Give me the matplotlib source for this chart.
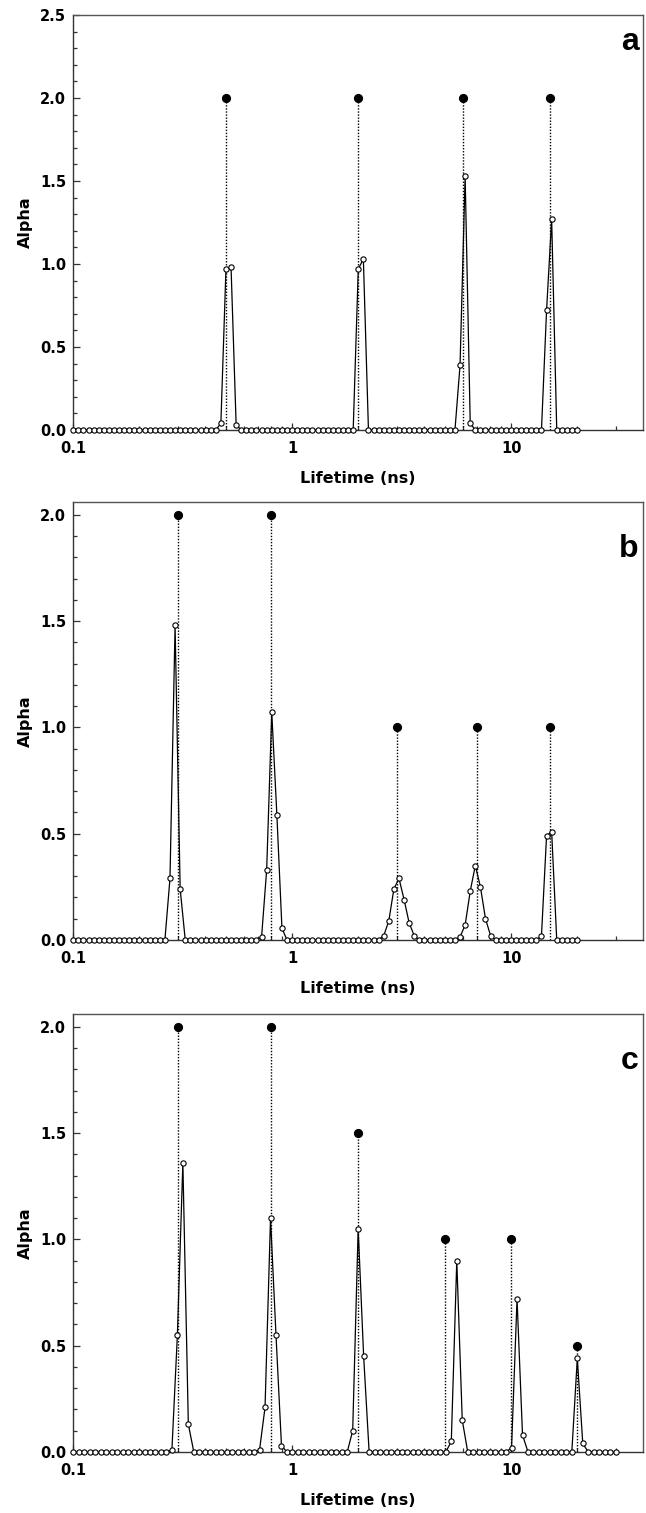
import numpy as np
import matplotlib
matplotlib.use("Agg")
import matplotlib.pyplot as plt
from matplotlib.ticker import FixedLocator, MultipleLocator, NullFormatter

plt.rcParams['font.family'] = ['DejaVu Sans']
plt.rcParams['font.weight'] = 'bold'

# ---- lifetime grids (log-spaced recovery grids, 100 points) ----
grid_a = dict(start=0.1, end=20.0, n=100)
grid_b = dict(start=0.1, end=20.0, n=100)
grid_c = dict(start=0.1, end=30.0, n=100)

# ---- true lifetimes (filled dots) ----
true_tau_a = [0.5, 2.0, 6.0, 15.0]
true_amp_a = [2.0, 2.0, 2.0, 2.0]
true_tau_b = [0.3, 0.8, 3.0, 7.0, 15.0]
true_amp_b = [2.0, 2.0, 1.0, 1.0, 1.0]
true_tau_c = [0.3, 0.8, 2.0, 5.0, 10.0, 20.0]
true_amp_c = [2.0, 2.0, 1.5, 1.0, 1.0, 0.5]

# ---- recovered alpha distributions: nonzero entries {grid index: alpha} ----
recovered_a = {29: 0.04, 30: 0.97, 31: 0.98, 32: 0.03,
               56: 0.97, 57: 1.03,
               76: 0.39, 77: 1.53, 78: 0.04,
               93: 0.72, 94: 1.27}
recovered_b = {19: 0.29, 20: 1.48, 21: 0.24,
               37: 0.015, 38: 0.33, 39: 1.07, 40: 0.59, 41: 0.055,
               61: 0.02, 62: 0.09, 63: 0.24, 64: 0.29, 65: 0.19, 66: 0.08, 67: 0.02,
               76: 0.015, 77: 0.07, 78: 0.23, 79: 0.35, 80: 0.25, 81: 0.10, 82: 0.02,
               92: 0.02, 93: 0.49, 94: 0.51}
recovered_c = {18: 0.01, 19: 0.55, 20: 1.36, 21: 0.13,
               34: 0.01, 35: 0.21, 36: 1.10, 37: 0.55, 38: 0.03,
               51: 0.10, 52: 1.05, 53: 0.45,
               69: 0.05, 70: 0.90, 71: 0.15,
               80: 0.02, 81: 0.72, 82: 0.08,
               92: 0.44, 93: 0.04}

panel_letters = ['a', 'b', 'c']
y_tops = [2.5, 2.06, 2.06]
x_ticks = [0.1, 1, 10]
x_ticklabels = ['0.1', '1', '10']

W, H = 646, 1513
fig = plt.figure(figsize=(W / 100, H / 100), dpi=100)

left, right = 73.3 / W, 643 / W
boxes = [(15, 430), (502, 940), (1014, 1452)]

panels = [
    (grid_a, recovered_a, true_tau_a, true_amp_a),
    (grid_b, recovered_b, true_tau_b, true_amp_b),
    (grid_c, recovered_c, true_tau_c, true_amp_c),
]

for i, ((g, rec, ttau, tamp), (top_px, bot_px)) in enumerate(zip(panels, boxes)):
    ax = fig.add_axes([left, 1 - bot_px / H, right - left, (bot_px - top_px) / H])
    tau = np.geomspace(g['start'], g['end'], g['n'])
    alpha = np.zeros(g['n'])
    for k, v in rec.items():
        alpha[k] = v

    # true lifetimes: dotted stems with filled dots
    for t, a in zip(ttau, tamp):
        ax.plot([t, t], [0, a], linestyle=(0, (1, 1.2)), color='black', lw=1.0, zorder=2)
    ax.plot(ttau, tamp, 'o', color='black', ms=5.6, zorder=4, clip_on=False)

    # recovered distribution
    ax.plot(tau, alpha, '-', color='black', lw=0.9, zorder=3, clip_on=False)
    ax.plot(tau, alpha, 'o', mfc='white', mec='black', mew=0.8, ms=3.8,
            zorder=5, clip_on=False)

    ax.set_xscale('log')
    ax.set_xlim(0.1, 40)
    ax.set_ylim(0, y_tops[i])
    ax.xaxis.set_major_locator(FixedLocator(x_ticks))
    ax.set_xticklabels(x_ticklabels)
    ax.xaxis.set_minor_locator(FixedLocator(
        [m * d for d in (0.1, 1, 10) for m in range(2, 10) if m * d < 40]))
    ax.xaxis.set_minor_formatter(NullFormatter())
    ax.yaxis.set_major_locator(MultipleLocator(0.5))
    ax.yaxis.set_minor_locator(MultipleLocator(0.1))
    ax.yaxis.set_major_formatter(plt.FuncFormatter(lambda v, p: f"{v:.1f}"))

    ax.tick_params(axis='both', which='both', direction='in', top=False, right=False,
                   labelsize=10.5, width=0.9, color='#333333')
    ax.tick_params(axis='both', which='major', length=5)
    ax.tick_params(axis='x', which='major', pad=8)
    ax.tick_params(axis='y', which='major', pad=5)
    ax.tick_params(axis='both', which='minor', length=3)
    for lab in ax.get_xticklabels() + ax.get_yticklabels():
        lab.set_fontweight('bold')

    for s in ax.spines.values():
        s.set_color('#555555')
        s.set_linewidth(1.0)
    ax.spines['left'].set_color('#333333')
    ax.spines['bottom'].set_color('#333333')

    ax.set_xlabel('Lifetime (ns)', fontsize=11.5, fontweight='bold', labelpad=11)
    ax.set_ylabel('Alpha', fontsize=11.5, fontweight='bold', labelpad=5)

    letter_y = 1 - (27 if i == 0 else 47) / (bot_px - top_px)
    ax.text(0.992, letter_y, panel_letters[i], transform=ax.transAxes,
            ha='right', va='center', fontsize=23, fontweight='bold',
            family='Liberation Sans')

fig.savefig('out.png', dpi=100)
